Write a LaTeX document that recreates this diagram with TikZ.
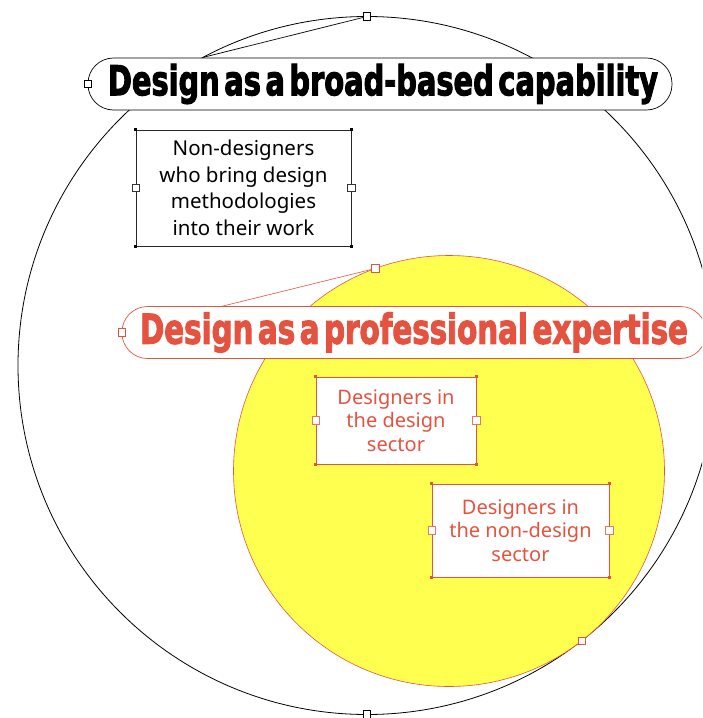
\documentclass[tikz,border=0pt]{standalone}
\usepackage{fontspec}
\usepackage{graphicx}
\usetikzlibrary{positioning}

\setmainfont{Noto Sans}
\newfontfamily\headfont[WordSpace=0.45, BoldFeatures={FakeBold=3}]{DejaVu Sans}

\definecolor{expred}{RGB}{229,83,64}
\definecolor{bloby}{RGB}{255,255,80}

\newcommand{\headline}[2]{\resizebox{#1}{\height}{\headfont\bfseries\fontsize{41}{41}\selectfont #2}}

\tikzset{
  handle/.style={draw, fill=white, minimum size=7.5pt, inner sep=0pt, line width=0.6pt},
  dot/.style={fill, minimum size=3.5pt, inner sep=0pt},
  pill/.style={draw, fill=white, rounded corners=25.5pt, minimum height=52pt, inner sep=0pt, line width=0.7pt},
  textbox/.style={draw, fill=white, align=center, inner sep=0pt, line width=0.7pt},
  ring/.style={circle, draw, inner sep=0pt, outer sep=0pt},
}

\begin{document}
\begin{tikzpicture}[x=1pt, y=-1pt]

    % page
    \useasboundingbox (0,0) rectangle (702,718);
    \clip (0,0) rectangle (702,718);

    % circles
    \node [ring, line width=0.8pt, minimum size=698pt] (big) at (367,365.5) {};
    \node [ring, draw=expred, fill=bloby, line width=0.6pt, minimum size=431pt] (yel) at (449,471) {};

    % handle lines
    \coordinate (hookA) at (big.118);
    \coordinate (hookB) at (219,307);
    \node [handle] (topH) at (big.north) {};
    \node [handle] (botH) at (big.south) {};
    \node [handle, draw=expred] (yelH) at (yel.110.3) {};
    \node [handle, draw=expred] (tanH) at (yel.-52.1) {};
    \draw [line width=0.7pt] (topH) -- (hookA);
    \draw [expred, line width=0.6pt] (yelH) -- (hookB);

    % broad-based capability
    \node [pill, minimum width=584pt] (pillA) at (380,84)
        {\hspace*{6pt}\headline{550pt}{Design as a broad-based capability}};
    \node [handle] (pillAH) at (pillA.west) {};

    \node [textbox, draw=black!85, minimum width=215pt, minimum height=116pt,
           font=\fontsize{20.5}{26.5}\selectfont] (nondes) at (243.5,188)
        {Non-designers\\who bring design\\methodologies\\into their work};

    % professional expertise
    \node [pill, draw=expred, text=expred, minimum width=584pt] (pillB) at (414,332.5)
        {\headline{548pt}{Design as a professional expertise}};
    \node [handle, draw=expred] (pillBH) at (pillB.west) {};

    \node [textbox, draw=expred, text=expred, minimum width=160pt, minimum height=87pt,
           font=\fontsize{20}{23.5}\selectfont] (insec) at (396,420.5)
        {Designers in\\the design\\sector};
    \node [textbox, draw=expred, text=expred, minimum width=177pt, minimum height=93pt,
           font=\fontsize{20}{23.5}\selectfont] (outsec) at (520.5,530.5)
        {Designers in\\the non-design\\sector};

    % box handles
    \foreach \a/\n in {north west/nw, north east/ne, south west/sw, south east/se} {
        \node [dot, black] (nondes-\n) at (nondes.\a) {};
        \node [dot, expred] (insec-\n) at (insec.\a) {};
        \node [dot, expred] (outsec-\n) at (outsec.\a) {};
    }
    \foreach \a in {west, east} {
        \node [handle, draw=black!80] (nondes-\a) at (nondes.\a) {};
        \node [handle, draw=expred!80] (insec-\a) at (insec.\a) {};
        \node [handle, draw=expred!80] (outsec-\a) at (outsec.\a) {};
    }

\end{tikzpicture}
\end{document}
